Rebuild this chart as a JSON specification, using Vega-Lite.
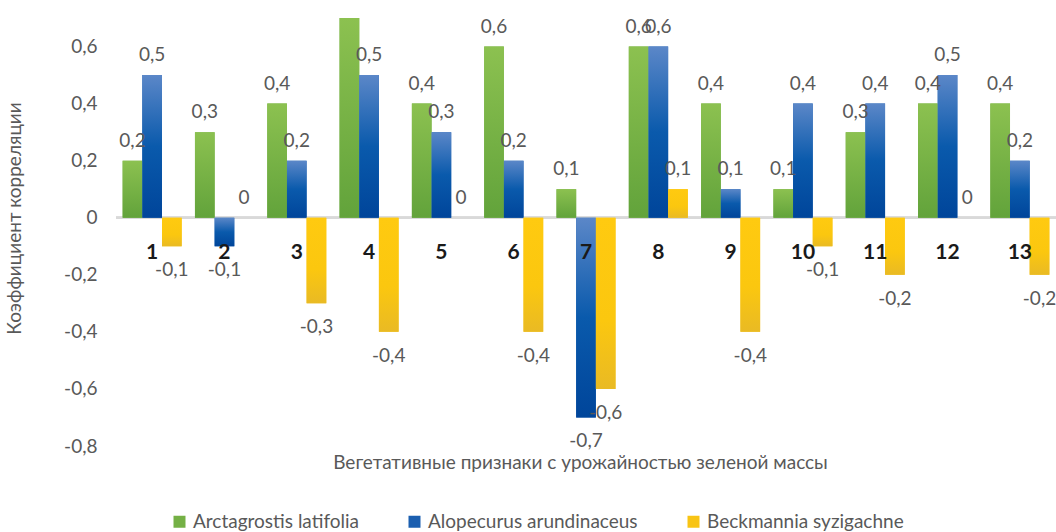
{
  "$schema": "https://vega.github.io/schema/vega-lite/v6.json",
  "autosize": {"type": "none"},
  "padding": {"left": 116, "top": 18, "right": 0, "bottom": 86},
  "width": 940,
  "height": 428,
  "background": "white",
  "config": {
    "view": {"stroke": null},
    "font": "Lato",
    "locale": {"number": {"decimal": ",", "thousands": " ", "grouping": [3], "currency": ["", ""], "minus": "-"}}
  },
  "data": {
    "values": [
      {"cat": "1", "series": "Arctagrostis latifolia", "value": 0.2},
      {"cat": "1", "series": "Alopecurus arundinaceus", "value": 0.5},
      {"cat": "1", "series": "Beckmannia syzigachne", "value": -0.1},
      {"cat": "2", "series": "Arctagrostis latifolia", "value": 0.3},
      {"cat": "2", "series": "Alopecurus arundinaceus", "value": -0.1},
      {"cat": "2", "series": "Beckmannia syzigachne", "value": 0},
      {"cat": "3", "series": "Arctagrostis latifolia", "value": 0.4},
      {"cat": "3", "series": "Alopecurus arundinaceus", "value": 0.2},
      {"cat": "3", "series": "Beckmannia syzigachne", "value": -0.3},
      {"cat": "4", "series": "Arctagrostis latifolia", "value": 0.7},
      {"cat": "4", "series": "Alopecurus arundinaceus", "value": 0.5},
      {"cat": "4", "series": "Beckmannia syzigachne", "value": -0.4},
      {"cat": "5", "series": "Arctagrostis latifolia", "value": 0.4},
      {"cat": "5", "series": "Alopecurus arundinaceus", "value": 0.3},
      {"cat": "5", "series": "Beckmannia syzigachne", "value": 0},
      {"cat": "6", "series": "Arctagrostis latifolia", "value": 0.6},
      {"cat": "6", "series": "Alopecurus arundinaceus", "value": 0.2},
      {"cat": "6", "series": "Beckmannia syzigachne", "value": -0.4},
      {"cat": "7", "series": "Arctagrostis latifolia", "value": 0.1},
      {"cat": "7", "series": "Alopecurus arundinaceus", "value": -0.7},
      {"cat": "7", "series": "Beckmannia syzigachne", "value": -0.6},
      {"cat": "8", "series": "Arctagrostis latifolia", "value": 0.6},
      {"cat": "8", "series": "Alopecurus arundinaceus", "value": 0.6},
      {"cat": "8", "series": "Beckmannia syzigachne", "value": 0.1},
      {"cat": "9", "series": "Arctagrostis latifolia", "value": 0.4},
      {"cat": "9", "series": "Alopecurus arundinaceus", "value": 0.1},
      {"cat": "9", "series": "Beckmannia syzigachne", "value": -0.4},
      {"cat": "10", "series": "Arctagrostis latifolia", "value": 0.1},
      {"cat": "10", "series": "Alopecurus arundinaceus", "value": 0.4},
      {"cat": "10", "series": "Beckmannia syzigachne", "value": -0.1},
      {"cat": "11", "series": "Arctagrostis latifolia", "value": 0.3},
      {"cat": "11", "series": "Alopecurus arundinaceus", "value": 0.4},
      {"cat": "11", "series": "Beckmannia syzigachne", "value": -0.2},
      {"cat": "12", "series": "Arctagrostis latifolia", "value": 0.4},
      {"cat": "12", "series": "Alopecurus arundinaceus", "value": 0.5},
      {"cat": "12", "series": "Beckmannia syzigachne", "value": 0},
      {"cat": "13", "series": "Arctagrostis latifolia", "value": 0.4},
      {"cat": "13", "series": "Alopecurus arundinaceus", "value": 0.2},
      {"cat": "13", "series": "Beckmannia syzigachne", "value": -0.2}
    ]
  },
  "encoding": {
    "x": {
      "field": "cat", "type": "nominal", "sort": null,
      "scale": {"paddingInner": 0.184, "paddingOuter": 0.092},
      "axis": {
        "labels": false, "ticks": false, "domain": false,
        "title": "Вегетативные признаки с урожайностью зеленой массы",
        "titleFont": "Lato", "titleFontSize": 19, "titleFontWeight": "normal", "titleColor": "#595959",
        "titleX": 464, "titleY": 22, "titleAlign": "center", "titleBaseline": "alphabetic"
      }
    },
    "y": {
      "field": "value", "type": "quantitative",
      "scale": {"domain": [-0.8, 0.7], "nice": false, "zero": false},
      "axis": {
        "values": [-0.8, -0.6, -0.4, -0.2, 0, 0.2, 0.4, 0.6],
        "format": ".1~f",
        "grid": false, "domain": false, "ticks": false,
        "labelPadding": 19, "labelFont": "Lato", "labelFontSize": 19, "labelColor": "#595959",
        "title": "Коэффициент корреляции",
        "titleFont": "Lato", "titleFontSize": 19, "titleFontWeight": "normal", "titleColor": "#595959",
        "titleX": -102, "titleY": 200, "titleAngle": -90, "titleAlign": "center", "titleBaseline": "middle"
      }
    },
    "xOffset": {"field": "series", "type": "nominal",
      "sort": ["Arctagrostis latifolia", "Alopecurus arundinaceus", "Beckmannia syzigachne"],
      "scale": {"paddingInner": 0, "paddingOuter": 0}}
  },
  "layer": [
    {
      "mark": {"type": "rule", "color": "#d9d9d9", "strokeWidth": 2},
      "encoding": {"y": {"datum": 0}, "xOffset": null, "x": {"value": 0}, "x2": {"value": 940}}
    },
    {
      "mark": {"type": "bar"},
      "encoding": {
        "color": {
          "field": "series", "type": "nominal",
          "sort": ["Arctagrostis latifolia", "Alopecurus arundinaceus", "Beckmannia syzigachne"],
          "scale": {
            "domain": ["Arctagrostis latifolia", "Alopecurus arundinaceus", "Beckmannia syzigachne"],
            "range": ["#74b045", "#1b5fb0", "#f8c414"]
          },
          "legend": {
            "orient": "none", "legendX": 54, "legendY": 494, "direction": "horizontal",
            "title": null, "symbolType": "square", "symbolSize": 144, "symbolStrokeWidth": 0,
            "labelFont": "Lato", "labelFontSize": 19, "labelColor": "#595959", "labelOffset": 4,
            "labelLimit": 400, "columnPadding": 46, "padding": 0
          }
        }
      }
    },
    {
      "transform": [{"filter": "datum.series === 'Arctagrostis latifolia'"}],
      "mark": {"type": "bar", "fill": {"gradient": "linear", "x1": 0, "y1": 0, "x2": 0, "y2": 1, "stops": [{"offset": 0, "color": "#8cc150"}, {"offset": 1, "color": "#62a33b"}]}}
    },
    {
      "transform": [{"filter": "datum.series === 'Alopecurus arundinaceus'"}],
      "mark": {"type": "bar", "fill": {"gradient": "linear", "x1": 0, "y1": 0, "x2": 0, "y2": 1, "stops": [{"offset": 0, "color": "#5b87c8"}, {"offset": 0.5, "color": "#0a5aac"}, {"offset": 1, "color": "#00459a"}]}}
    },
    {
      "transform": [{"filter": "datum.series === 'Beckmannia syzigachne'"}],
      "mark": {"type": "bar", "fill": {"gradient": "linear", "x1": 0, "y1": 0, "x2": 0, "y2": 1, "stops": [{"offset": 0, "color": "#ffca10"}, {"offset": 0.6, "color": "#fbc70f"}, {"offset": 1, "color": "#e9ba24"}]}}
    },
    {
      "transform": [{"filter": "datum.value >= 0"}],
      "mark": {"type": "text", "clip": true, "baseline": "alphabetic", "align": "center", "dy": -14, "font": "Lato", "fontSize": 19, "color": "#595959"},
      "encoding": {
        "text": {"field": "value", "type": "quantitative", "format": ".1~f"}
      }
    },
    {
      "transform": [{"filter": "datum.value < 0"}],
      "mark": {"type": "text", "baseline": "alphabetic", "align": "center", "dy": 30, "font": "Lato", "fontSize": 19, "color": "#595959"},
      "encoding": {
        "text": {"field": "value", "type": "quantitative", "format": ".1~f"}
      }
    },
    {
      "transform": [{"filter": "datum.series === 'Arctagrostis latifolia'"}],
      "mark": {"type": "text", "baseline": "alphabetic", "align": "center", "dy": 41, "font": "Lato", "fontSize": 21, "fontWeight": "bold", "color": "#1a1a1a"},
      "encoding": {
        "y": {"datum": 0},
        "xOffset": null,
        "text": {"field": "cat", "type": "nominal"}
      }
    }
  ]
}
